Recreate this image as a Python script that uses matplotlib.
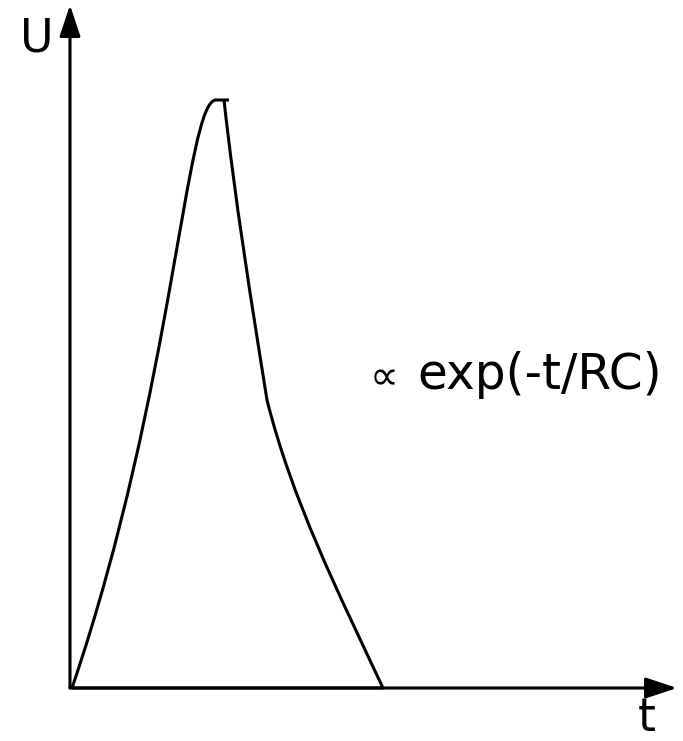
import matplotlib.pyplot as plt
from matplotlib.path import Path
from matplotlib.patches import PathPatch

# pulse outline as cubic Bezier control points (t, U in drawing units)
rise_t = [2, 104, 116, 146]
rise_u = [0, 300, 588, 588]
top_t = [146, 159]
top_u = [588, 588]
fall_t = [154, 165, 181, 197, 222, 268, 313]
fall_u = [588, 488, 388, 288, 188, 96, 0]
base_t = [313, 2]
base_u = [0, 0]

t_end = 607
u_end = 683

fig = plt.figure(figsize=(6.83, 7.41), dpi=100)
ax = fig.add_axes([0, 0, 1, 1])
ax.set_xlim(-70, 613)
ax.set_ylim(-53, 688)
ax.axis('off')

C = Path.CURVE4
verts = (list(zip(rise_t, rise_u)) + [(top_t[1], top_u[1])]
         + list(zip(fall_t, fall_u)) + [(base_t[1], base_u[1])])
codes = ([Path.MOVETO, C, C, C] + [Path.LINETO]
         + [Path.MOVETO, C, C, C, C, C, C] + [Path.LINETO])
ax.add_patch(PathPatch(Path(verts, codes), fill=False, edgecolor='black',
                       lw=2.2, joinstyle='round', capstyle='butt'))

# axes with arrow heads
arrow = dict(arrowstyle='-|>,head_length=0.6,head_width=0.2', lw=2.2,
             color='black', mutation_scale=32, shrinkA=0, shrinkB=0)
ax.annotate('', xy=(0, u_end), xytext=(0, 0), arrowprops=arrow)
ax.annotate('', xy=(t_end, 0), xytext=(0, 0), arrowprops=arrow)

ax.text(-33, 637, 'U', fontsize=33, ha='center', va='baseline')
ax.text(577, -43, 't', fontsize=33, ha='center', va='baseline')
ax.text(300, 299, '∝', fontsize=29, ha='left', va='baseline')
ax.text(347, 299, 'exp(-t/RC)', fontsize=35, ha='left', va='baseline')

fig.savefig('out.png', dpi=100)
